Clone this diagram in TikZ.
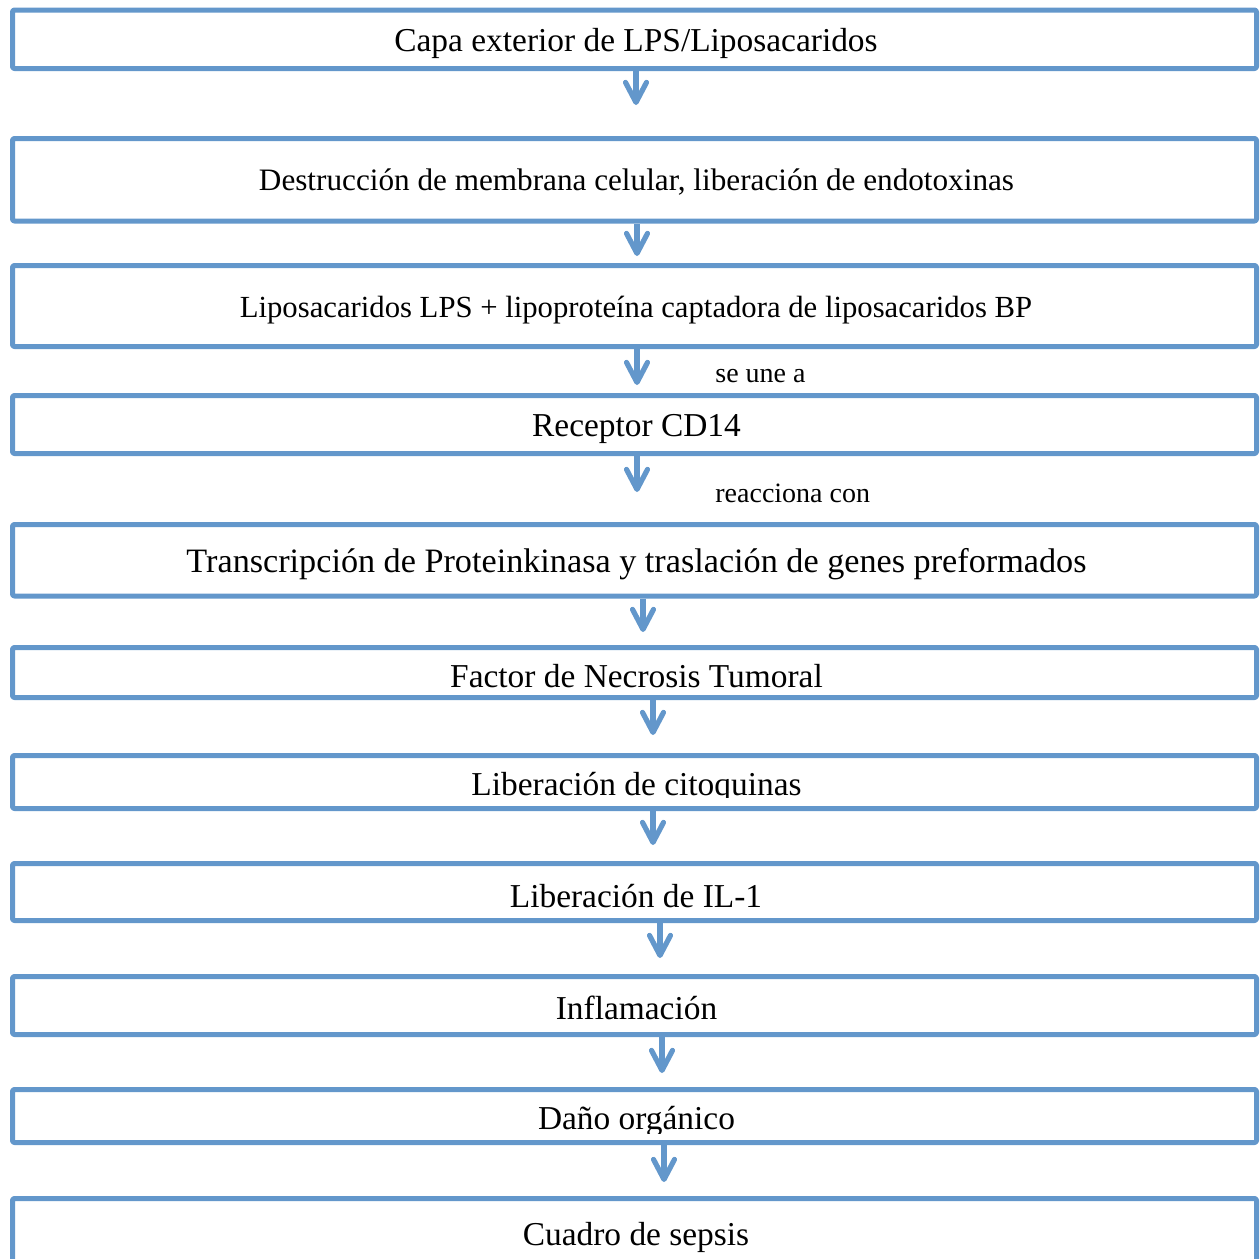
\documentclass[tikz,border=0pt]{standalone}
\usepackage{fontspec}
\setmainfont{Liberation Serif}
\usetikzlibrary{arrows.meta}
\definecolor{flowblue}{RGB}{99,151,203}
\begin{document}
\begin{tikzpicture}[x=0.5pt,y=-0.5pt,
  box/.style={draw=flowblue, line width=2.5pt, rectangle, minimum width=622pt, inner sep=0pt, line join=round, rounded corners=1pt},
  flow/.style={draw=flowblue, line width=2.6pt, -{Straight Barb[length=10pt,width=10.5pt,round]}},
  big/.style={font=\fontsize{16.7}{20}\selectfont, anchor=base, inner sep=0pt},
  mid/.style={font=\fontsize{15.5}{18}\selectfont, anchor=base, inner sep=0pt},
  lab/.style={font=\fontsize{14}{17}\selectfont, anchor=base west, inner sep=0pt}]
\useasboundingbox (0,0) rectangle (1260,1259);

% boxes
\node[box, minimum height=29.25pt] (b1)  at (634.5,39.25)  {};
\node[box, minimum height=41.25pt] (b2)  at (634.5,179.75) {};
\node[box, minimum height=40.5pt]  (b3)  at (634.5,306)    {};
\node[box, minimum height=29pt]    (b4)  at (634.5,424.5)  {};
\node[box, minimum height=35.75pt] (b5)  at (634.5,560.25) {};
\node[box, minimum height=25pt]    (b6)  at (634.5,672.5)  {};
\node[box, minimum height=26.5pt]  (b7)  at (634.5,782)    {};
\node[box, minimum height=28.5pt]  (b8)  at (634.5,892)    {};
\node[box, minimum height=29pt]    (b9)  at (634.5,1005.5) {};
\node[box, minimum height=26.5pt]  (b10) at (634.5,1116)   {};
\node[box, minimum height=40.75pt] (b11) at (634.5,1239.25){};

% texts
\node[big] (t1) at (636,51.7)  {Capa exterior de LPS/Liposacaridos};
\node[mid, font=\fontsize{15.6}{18}\selectfont] (t2) at (636.5,190) {Destrucción de membrana celular, liberación de endotoxinas};
\node[mid, font=\fontsize{15.35}{18}\selectfont] (t3) at (636,317.5) {Liposacaridos LPS + lipoproteína captadora de liposacaridos BP};
\node[big] (t4) at (636.5,436) {Receptor CD14};
\node[big, font=\fontsize{17.1}{20}\selectfont] (t5) at (636.5,572) {Transcripción de Proteinkinasa y traslación de genes preformados};
\node[big] (t6) at (636.5,687.4) {Factor de Necrosis Tumoral};
\begin{scope}
  \clip (0,700) rectangle (1260,797);
  \node[big] (t7) at (636.5,795) {Liberación de citoquinas};
\end{scope}
\node[big] (t8) at (636,907) {Liberación de IL-1};
\node[big] (t9) at (636.5,1019) {Inflamación};
\begin{scope}
  \clip (0,1040) rectangle (1260,1133);
  \node[big] (t10) at (636.5,1129.5) {Daño orgánico};
\end{scope}
\node[big] (t11) at (636,1245) {Cuadro de sepsis};

% labels
\node[lab] (l1) at (715,382) {se une a};
\node[lab] (l2) at (715,502) {reacciona con};

% arrow tips
\coordinate (a1)  at (636,105);
\coordinate (a2)  at (637,256);
\coordinate (a3)  at (637,385);
\coordinate (a4)  at (637,492);
\coordinate (a5)  at (643,632);
\coordinate (a6)  at (653,735);
\coordinate (a7)  at (653,845);
\coordinate (a8)  at (660,958);
\coordinate (a9)  at (662,1073);
\coordinate (a10) at (664,1182);

\draw[flow] (b1.south -| a1) -- (a1);
\draw[flow] (b2.south -| a2) -- (a2);
\draw[flow] (b3.south -| a3) -- (a3);
\draw[flow] (b4.south -| a4) -- (a4);
\draw[flow] (b5.south -| a5) -- (a5);
\draw[flow] (b6.south -| a6) -- (a6);
\draw[flow] (b7.south -| a7) -- (a7);
\draw[flow] (b8.south -| a8) -- (a8);
\draw[flow] (b9.south -| a9) -- (a9);
\draw[flow] (b10.south -| a10) -- (a10);
\end{tikzpicture}
\end{document}
